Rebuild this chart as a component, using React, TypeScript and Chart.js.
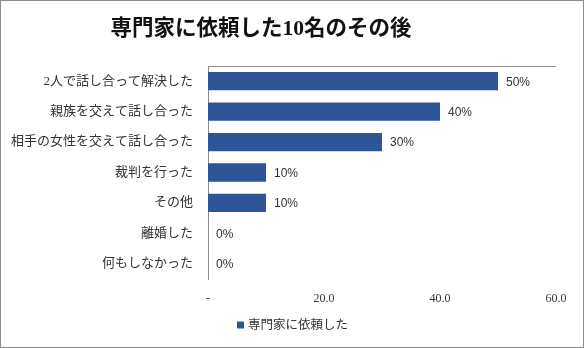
import React, { useEffect, useRef } from "react";
import { Chart, registerables } from "chart.js";

Chart.register(...registerables);

const TITLE = "専門家に依頼した10名のその後";
const SERIES_NAME = "専門家に依頼した";
const categories = [
  "2人で話し合って解決した",
  "親族を交えて話し合った",
  "相手の女性を交えて話し合った",
  "裁判を行った",
  "その他",
  "離婚した",
  "何もしなかった",
];
const values = [50, 40, 30, 10, 10, 0, 0];
const X_MIN = 0;
const X_MAX = 60;
const X_STEP = 20;

const BAR_COLOR = "#2E5597";
const TEXT_COLOR = "#333333";
const SERIF = "'Liberation Serif', 'Noto Sans CJK JP', serif";
const SANS = "'Liberation Sans', 'Noto Sans CJK JP', sans-serif";

const decorPlugin = {
  id: "decor",
  afterDatasetsDraw(chart: any) {
    const { ctx, chartArea, width } = chart;
    ctx.save();
    // plot-area top border
    ctx.strokeStyle = "#8c8c8c";
    ctx.lineWidth = 1;
    ctx.beginPath();
    ctx.moveTo(chartArea.left, Math.round(chartArea.top) + 0.5);
    ctx.lineTo(chartArea.right, Math.round(chartArea.top) + 0.5);
    ctx.stroke();

    // data labels
    const meta = chart.getDatasetMeta(0);
    const ds = chart.data.datasets[0];
    ctx.fillStyle = TEXT_COLOR;
    ctx.font = `12px ${SANS}`;
    ctx.textAlign = "left";
    ctx.textBaseline = "middle";
    meta.data.forEach((el: any, i: number) => {
      const v = ds.data[i] as number;
      ctx.fillText(`${v}%`, el.x + 8, el.y + 1);
    });

    // title
    ctx.fillStyle = "#111111";
    ctx.font = `bold 21.5px ${SERIF}`;
    ctx.textAlign = "center";
    ctx.fillText(TITLE, width / 2 - 31, 28);

    // legend
    const lx = width / 2 - 55;
    const ly = 324;
    ctx.fillStyle = ds.backgroundColor;
    ctx.fillRect(lx, ly - 3.5, 7, 7);
    ctx.fillStyle = TEXT_COLOR;
    ctx.font = `12.5px ${SERIF}`;
    ctx.textAlign = "left";
    ctx.fillText(ds.label, lx + 11, ly + 1);
    ctx.restore();
  },
};

export default function App() {
  const ref = useRef<HTMLCanvasElement>(null);
  useEffect(() => {
    document.body.style.margin = "0";
    const chart = new Chart(ref.current!, {
      type: "bar",
      data: {
        labels: categories,
        datasets: [
          {
            label: SERIES_NAME,
            data: values,
            backgroundColor: BAR_COLOR,
            barPercentage: 0.6,
            categoryPercentage: 1,
          },
        ],
      },
      options: {
        indexAxis: "y",
        animation: false,
        responsive: false,
        devicePixelRatio: 1,
        layout: { padding: { left: 10, right: 27, top: 65, bottom: 27.6 } },
        scales: {
          x: {
            min: X_MIN,
            max: X_MAX,
            grid: { display: false, drawTicks: false },
            border: { display: false },
            ticks: {
              stepSize: X_STEP,
              padding: 13,
              color: TEXT_COLOR,
              font: { family: SERIF, size: 12 },
              callback: (v: any) => (Number(v) === 0 ? "-" : Number(v).toFixed(1)),
            },
          },
          y: {
            grid: { display: false, drawTicks: false },
            border: { display: true, color: "#8c8c8c" },
            afterFit: (scale: any) => {
              scale.width = 197;
            },
            ticks: {
              padding: 15,
              color: TEXT_COLOR,
              font: { family: SERIF, size: 13 },
            },
          },
        },
        plugins: {
          title: { display: false },
          legend: { display: false },
          tooltip: { enabled: false },
        },
      },
      plugins: [decorPlugin],
    });
    return () => chart.destroy();
  }, []);
  return (
    <div
      style={{
        width: 584,
        height: 348,
        border: "1px solid #8c8c8c",
        boxSizing: "border-box",
        background: "#fff",
      }}
    >
      <canvas ref={ref} width={582} height={346} style={{ display: "block" }} />
    </div>
  );
}
